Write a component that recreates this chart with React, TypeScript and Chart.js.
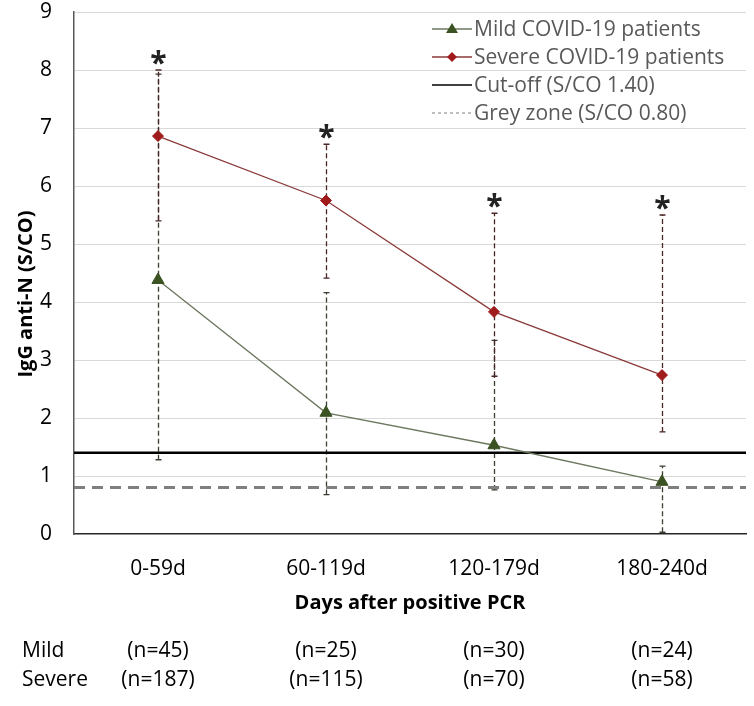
import React, { useEffect, useRef } from 'react';
import { Chart, registerables } from 'chart.js';

Chart.register(...registerables);

// ---------- data ----------
const categories = ['0-59d', '60-119d', '120-179d', '180-240d'];
const mildValues = [4.38, 2.09, 1.53, 0.9];
const severeValues = [6.86, 5.75, 3.83, 2.74];
const mildLow = [1.28, 0.68, 0.76, 0.03];
const mildHigh = [7.93, 4.16, 3.34, 1.17];
const severeLow = [5.4, 4.41, 2.72, 1.76];
const severeHigh = [8.0, 6.72, 5.53, 5.5];
const significant = [true, true, true, true];
const yMin = 0;
const yMax = 9;
const yStep = 1;
const cutoffValue = 1.4;
const greyZoneValue = 0.8;
const groupNames = ['Mild', 'Severe'];
const mildCounts = ['(n=45)', '(n=25)', '(n=30)', '(n=24)'];
const severeCounts = ['(n=187)', '(n=115)', '(n=70)', '(n=58)'];
const legendLabels = [
  'Mild COVID-19 patients',
  'Severe COVID-19 patients',
  'Cut-off (S/CO 1.40)',
  'Grey zone (S/CO 0.80)',
];
const yTitle = 'IgG anti-N (S/CO)';
const xTitle = 'Days after positive PCR';

// ---------- styles ----------
const FONT = "'Open Sans', sans-serif";
const MILD_LINE = '#6b775e';
const MILD_MARK = '#3b5323';
const SEVERE_LINE = '#8b3a3a';
const SEVERE_MARK = '#a01c1c';
const MILD_ERR = '#3a3d30';
const SEVERE_ERR = '#4a2626';
const GREY = '#7f7f7f';

const errorBarPlugin = {
  id: 'errorBarsAndRefs',
  beforeDatasetsDraw(chart: any) {
    const { ctx, chartArea, scales } = chart;
    const x = scales.x;
    const y = scales.y;
    const drawBars = (lows: number[], highs: number[], color: string) => {
      lows.forEach((lo, i) => {
        const px = Math.round(x.getPixelForValue(i)) + 0.5;
        const yl = y.getPixelForValue(lo);
        const yh = y.getPixelForValue(highs[i]);
        ctx.save();
        ctx.strokeStyle = color;
        ctx.lineWidth = 1.3;
        ctx.setLineDash([5, 3]);
        ctx.beginPath();
        ctx.moveTo(px, yl);
        ctx.lineTo(px, yh);
        ctx.stroke();
        ctx.setLineDash([]);
        ctx.beginPath();
        ctx.moveTo(px - 3, yl);
        ctx.lineTo(px + 3, yl);
        ctx.moveTo(px - 3, yh);
        ctx.lineTo(px + 3, yh);
        ctx.stroke();
        ctx.restore();
      });
    };
    drawBars(mildLow, mildHigh, MILD_ERR);
    drawBars(severeLow, severeHigh, SEVERE_ERR);

    // reference lines
    ctx.save();
    const yc = y.getPixelForValue(cutoffValue);
    ctx.strokeStyle = '#000';
    ctx.lineWidth = 2.6;
    ctx.beginPath();
    ctx.moveTo(chartArea.left, yc);
    ctx.lineTo(chartArea.right, yc);
    ctx.stroke();
    const yg = y.getPixelForValue(greyZoneValue);
    ctx.strokeStyle = GREY;
    ctx.lineWidth = 3;
    ctx.setLineDash([11, 7]);
    ctx.beginPath();
    ctx.moveTo(chartArea.left, yg);
    ctx.lineTo(chartArea.right, yg);
    ctx.stroke();
    ctx.restore();
  },
  afterDatasetsDraw(chart: any) {
    const { ctx, scales } = chart;
    const x = scales.x;
    const y = scales.y;
    ctx.save();
    ctx.fillStyle = '#222';
    ctx.font = `bold 30px ${FONT}`;
    ctx.textAlign = 'center';
    ctx.textBaseline = 'alphabetic';
    significant.forEach((sig, i) => {
      if (!sig) return;
      const px = x.getPixelForValue(i) + 0.5;
      const topPx = Math.min(y.getPixelForValue(severeHigh[i]), y.getPixelForValue(mildHigh[i]));
      ctx.fillText('*', px, topPx + 3);
    });
    ctx.restore();
  },
  afterDraw(chart: any) {
    const { ctx, chartArea, scales } = chart;
    const x = scales.x;

    // custom legend
    ctx.save();
    const textX = chartArea.right - 272;
    const rowY = (i: number) => chartArea.top + 17 + i * 28;
    ctx.font = `21px ${FONT}`;
    ctx.fillStyle = '#595959';
    ctx.textAlign = 'left';
    ctx.textBaseline = 'middle';
    legendLabels.forEach((lab, i) => {
      const yy = rowY(i);
      ctx.fillText(lab, textX, yy + 1);
      const x0 = textX - 42;
      const x1 = textX - 2;
      ctx.save();
      if (i === 0 || i === 1) {
        ctx.strokeStyle = i === 0 ? MILD_LINE : SEVERE_LINE;
        ctx.lineWidth = 1.3;
        ctx.beginPath();
        ctx.moveTo(x0, yy);
        ctx.lineTo(x1, yy);
        ctx.stroke();
        ctx.fillStyle = i === 0 ? MILD_MARK : SEVERE_MARK;
        const cx = textX - 22;
        ctx.beginPath();
        if (i === 0) {
          ctx.moveTo(cx, yy - 6);
          ctx.lineTo(cx + 6, yy + 4);
          ctx.lineTo(cx - 6, yy + 4);
        } else {
          ctx.moveTo(cx, yy - 5);
          ctx.lineTo(cx + 5, yy);
          ctx.lineTo(cx, yy + 5);
          ctx.lineTo(cx - 5, yy);
        }
        ctx.closePath();
        ctx.fill();
      } else if (i === 2) {
        ctx.strokeStyle = '#000';
        ctx.lineWidth = 1.3;
        ctx.beginPath();
        ctx.moveTo(x0, yy);
        ctx.lineTo(x1, yy);
        ctx.stroke();
      } else {
        ctx.strokeStyle = GREY;
        ctx.lineWidth = 1;
        ctx.setLineDash([3, 3]);
        ctx.beginPath();
        ctx.moveTo(x0, yy);
        ctx.lineTo(x1, yy);
        ctx.stroke();
      }
      ctx.restore();
    });
    ctx.restore();

    // y axis title
    ctx.save();
    ctx.font = `bold 20px ${FONT}`;
    ctx.fillStyle = '#000';
    ctx.textAlign = 'center';
    ctx.textBaseline = 'middle';
    ctx.translate(26, (chartArea.top + chartArea.bottom) / 2 + 21);
    ctx.rotate(-Math.PI / 2);
    ctx.fillText(yTitle, 0, 0);
    ctx.restore();

    // group counts table
    ctx.save();
    ctx.font = `21px ${FONT}`;
    ctx.fillStyle = '#000';
    ctx.textBaseline = 'middle';
    const rows = [mildCounts, severeCounts];
    rows.forEach((counts, r) => {
      const yy = chartArea.bottom + 117 + r * 29;
      ctx.textAlign = 'left';
      ctx.fillText(groupNames[r], 22, yy);
      ctx.textAlign = 'center';
      counts.forEach((c, i) => {
        ctx.fillText(c, x.getPixelForValue(i), yy);
      });
    });
    ctx.restore();
  },
};

export default function App() {
  const canvasRef = useRef<HTMLCanvasElement | null>(null);

  useEffect(() => {
    document.body.style.margin = '0';
    const canvas = canvasRef.current;
    if (!canvas) return;
    const chart = new Chart(canvas, {
      type: 'line',
      data: {
        labels: categories,
        datasets: [
          {
            label: legendLabels[0],
            data: mildValues,
            borderColor: MILD_LINE,
            borderWidth: 1.3,
            pointStyle: 'triangle',
            pointRadius: 7,
            pointBackgroundColor: MILD_MARK,
            pointBorderColor: MILD_MARK,
            pointBorderWidth: 1,
            tension: 0,
            fill: false,
          },
          {
            label: legendLabels[1],
            data: severeValues,
            borderColor: SEVERE_LINE,
            borderWidth: 1.3,
            pointStyle: 'rectRot',
            pointRadius: 5.5,
            pointBackgroundColor: SEVERE_MARK,
            pointBorderColor: SEVERE_MARK,
            pointBorderWidth: 1,
            tension: 0,
            fill: false,
          },
        ],
      },
      options: {
        responsive: true,
        maintainAspectRatio: false,
        animation: false,
        layout: { padding: { top: 12, right: 4, left: 0, bottom: 0 } },
        plugins: {
          legend: { display: false },
          tooltip: { enabled: false },
        },
        scales: {
          x: {
            type: 'category',
            offset: true,
            grid: { display: false, drawTicks: false },
            border: { display: true, color: '#262626', width: 1.5 },
            ticks: {
              color: '#000',
              font: { family: FONT, size: 21, lineHeight: 1.0 },
              padding: 25,
              maxRotation: 0,
            },
            title: {
              display: true,
              text: xTitle,
              color: '#000',
              font: { family: FONT, size: 20, weight: 'bold' },
              padding: { top: 0, bottom: 91 },
            },
            afterFit: (scale: any) => {
              scale.height = 172;
              scale.paddingLeft = 0;
              scale.paddingRight = 0;
            },
          },
          y: {
            min: yMin,
            max: yMax,
            ticks: {
              stepSize: yStep,
              color: '#000',
              font: { family: FONT, size: 21, lineHeight: 1.0 },
              padding: 22,
            },
            grid: {
              drawTicks: false,
              color: (c: any) => (c.tick && c.tick.value === 0 ? 'rgba(0,0,0,0)' : '#d9d9d9'),
              lineWidth: 1,
            },
            border: { display: true, color: '#595959', width: 1.5 },
            afterFit: (scale: any) => {
              scale.width = 74;
              scale.paddingTop = 0;
              scale.paddingBottom = 0;
            },
          },
        },
      },
      plugins: [errorBarPlugin],
    });
    return () => chart.destroy();
  }, []);

  return (
    <div style={{ width: 754, height: 706, position: 'relative' }}>
      <canvas ref={canvasRef} />
    </div>
  );
}
